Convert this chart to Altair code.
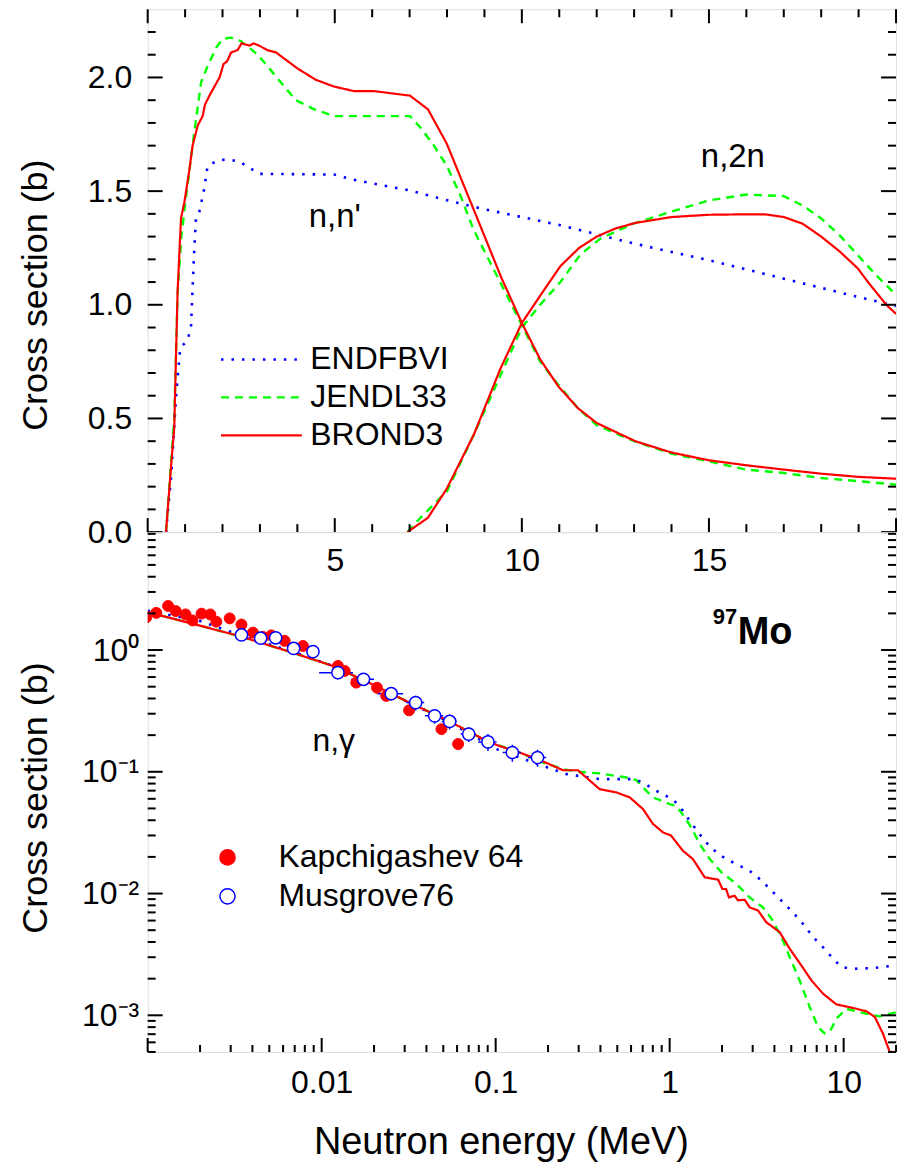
import altair as alt
import pandas as pd

FONT = "Liberation Sans"
W, H_TOP, H_BOT = 750, 524, 521

LIBS = ["ENDFBVI", "JENDL33", "BROND3"]
LIB_COLORS = ["#0000ff", "#00ff00", "#ff0000"]
LIB_DASH = [[2.5, 8], [8, 6], [1, 0]]
LIB_WIDTH = [2.6, 2.2, 2.2]

# ---------------- top panel: n,n' and n,2n (MeV, b) ----------------
endf_nn_E = [0.49, 0.63, 0.76, 0.87, 1.07, 1.16, 1.23, 1.29, 1.38, 1.51, 1.6, 1.87, 2.14, 2.45,
             2.98, 4.98, 5.5, 7.0, 8.0, 9.0, 10.0, 11.03, 12.98, 15.0, 17.0, 18.85, 20.0]
endf_nn_s = [0.0, 0.25, 0.6, 0.81, 0.845, 0.91, 1.19, 1.38, 1.41, 1.51, 1.61, 1.635, 1.64, 1.63,
             1.576, 1.573, 1.55, 1.503, 1.46, 1.42, 1.386, 1.35, 1.27, 1.196, 1.115, 1.04, 0.995]

jendl_nn_E = [0.49, 0.63, 0.71, 0.80, 0.9, 1.03, 1.23, 1.43, 1.6, 1.83, 2.0, 2.23, 2.49, 2.94, 3.2,
              3.65, 3.96, 4.45, 4.98, 7.01, 7.29, 7.65, 8.0, 8.36, 8.71, 9.45, 10.0, 10.49, 10.94,
              11.5, 12.0, 13.0, 14.0, 15.0, 16.0, 17.0, 18.0, 19.0, 20.0]
jendl_nn_s = [0.0, 0.32, 0.5, 1.05, 1.30, 1.48, 1.74, 1.98, 2.05, 2.13, 2.17, 2.175, 2.16, 2.10, 2.05,
              1.96, 1.90, 1.86, 1.83, 1.83, 1.78, 1.70, 1.61, 1.48, 1.33, 1.09, 0.91, 0.75, 0.655,
              0.545, 0.47, 0.40, 0.345, 0.311, 0.275, 0.26, 0.238, 0.224, 0.209]

brond_nn_E = [0.49, 0.63, 0.71, 0.80, 0.89, 0.98, 1.12, 1.2, 1.34, 1.47, 1.53, 1.65, 1.92, 2.03, 2.12,
              2.23, 2.4, 2.51, 2.72, 2.83, 2.98, 3.2, 3.43, 4.0, 4.49, 4.98, 5.51, 6.05, 7.01, 7.49,
              7.99, 8.71, 9.45, 10.0, 10.49, 10.98, 11.5, 12.0, 13.03, 14.0, 15.0, 16.0, 17.0, 18.0,
              19.0, 20.0]
brond_nn_s = [0.0, 0.30, 0.46, 1.06, 1.38, 1.45, 1.60, 1.70, 1.79, 1.83, 1.88, 1.92, 2.00, 2.06, 2.07,
              2.11, 2.12, 2.15, 2.14, 2.15, 2.14, 2.12, 2.11, 2.04, 1.99, 1.96, 1.94, 1.94, 1.92, 1.86,
              1.71, 1.42, 1.12, 0.92, 0.76, 0.64, 0.545, 0.48, 0.40, 0.35, 0.316, 0.294, 0.275, 0.257,
              0.243, 0.235]

jendl_n2n_E = [6.94, 7.29, 8.0, 8.72, 9.43, 10.0, 10.49, 11.03, 11.56, 12.09, 12.98, 14.0, 15.0, 16.0,
               17.0, 17.5, 18.0, 18.49, 18.98, 19.47, 19.9, 20.0]
jendl_n2n_s = [0.0, 0.063, 0.18, 0.43, 0.69, 0.90, 1.0, 1.10, 1.22, 1.29, 1.357, 1.41, 1.459, 1.485,
               1.478, 1.437, 1.38, 1.306, 1.218, 1.13, 1.06, 1.04]

brond_n2n_E = [6.94, 7.49, 7.99, 8.72, 9.43, 10.0, 10.49, 11.03, 11.53, 12.0, 12.49, 13.03, 14.0, 15.0,
               16.0, 16.49, 17.0, 17.5, 18.0, 18.49, 18.98, 19.25, 19.74, 20.0]
brond_n2n_s = [0.0, 0.063, 0.19, 0.43, 0.72, 0.92, 1.04, 1.17, 1.25, 1.30, 1.335, 1.36, 1.386, 1.396,
               1.398, 1.398, 1.386, 1.357, 1.30, 1.235, 1.16, 1.10, 1.0, 0.96]

# ---------------- bottom panel: n,gamma ----------------
endf_ng_E = [0.001, 0.002, 0.00338, 0.00684, 0.0116, 0.0197, 0.0307, 0.0544, 0.0903, 0.105, 0.174,
             0.255, 0.396, 0.615, 0.703, 0.802, 1.05, 1.19, 1.30, 1.46, 1.62, 1.90, 2.21, 2.88, 3.37,
             3.92, 4.48, 5.1, 5.83, 6.67, 7.6, 8.69, 9.7, 11.3, 14.8, 20.0]
endf_ng_s = [2.1, 1.73, 1.33, 0.97, 0.74, 0.52, 0.38, 0.255, 0.168, 0.150, 0.116, 0.0957, 0.0871,
             0.0871, 0.0817, 0.0721, 0.059, 0.048, 0.0398, 0.0318, 0.0263, 0.0211, 0.0186, 0.0154,
             0.0128, 0.0103, 0.0085, 0.00703, 0.00565, 0.00439, 0.00363, 0.00292, 0.00249, 0.00241,
             0.00244, 0.00257]

jendl_ng_E = [0.001, 0.00174, 0.00338, 0.00684, 0.0116, 0.0197, 0.0307, 0.0544, 0.0903, 0.137, 0.179,
              0.244, 0.297, 0.396, 0.564, 0.644, 0.703, 0.802, 1.0, 1.09, 1.22, 1.33, 1.49, 1.70, 1.98,
              2.42, 2.88, 3.44, 3.92, 4.48, 4.9, 5.58, 6.38, 7.13, 7.78, 8.32, 9.08, 10.4, 13.5, 16.1,
              20.0]
jendl_ng_s = [2.05, 1.67, 1.30, 0.95, 0.74, 0.52, 0.38, 0.259, 0.177, 0.144, 0.122, 0.105, 0.100,
              0.097, 0.0898, 0.0855, 0.0744, 0.0616, 0.0543, 0.0526, 0.0423, 0.0349, 0.0255, 0.0192,
              0.0150, 0.0120, 0.0093, 0.0077, 0.0060, 0.0041, 0.0030, 0.00194, 0.00117, 0.0008,
              0.00071, 0.00073, 0.00094, 0.00113, 0.00103, 0.00098, 0.00106]

brond_ng_E = [0.001, 0.00174, 0.00338, 0.00684, 0.0116, 0.0197, 0.0307, 0.0544, 0.0903, 0.105, 0.137,
              0.179, 0.244, 0.297, 0.396, 0.494, 0.589, 0.703, 0.802, 0.916, 1.02, 1.19, 1.36, 1.59,
              1.90, 2.01, 2.11, 2.19, 2.36, 2.47, 2.70, 2.88, 3.22, 3.59, 4.29, 4.9, 5.71, 6.52, 7.6,
              9.08, 11.3, 13.5, 15.1, 16.8, 18.4, 20.0]
brond_ng_s = [2.05, 1.67, 1.30, 0.95, 0.74, 0.52, 0.38, 0.259, 0.177, 0.163, 0.144, 0.125, 0.103,
              0.103, 0.072, 0.0677, 0.0617, 0.0494, 0.0373, 0.0318, 0.0299, 0.0225, 0.0192, 0.0136,
              0.0130, 0.0109, 0.0109, 0.0093, 0.0096, 0.0088, 0.0089, 0.0077, 0.00726, 0.00582,
              0.00482, 0.00352, 0.00257, 0.00194, 0.00151, 0.00123, 0.00115, 0.00108, 0.00097,
              0.00071, 0.0005, 0.0003]

EXPS = ["Kapchigashev 64", "Musgrove76"]
kap_E = [0.00098, 0.00112, 0.00131, 0.00145, 0.00165, 0.00181, 0.00204, 0.00229, 0.00248, 0.00296,
         0.00346, 0.00403, 0.0046, 0.00514, 0.00613, 0.00781, 0.0124, 0.01356, 0.0158, 0.0208,
         0.0235, 0.0318, 0.0488, 0.0608]
kap_s = [1.85, 2.02, 2.30, 2.09, 1.96, 1.75, 1.99, 1.96, 1.71, 1.82, 1.62, 1.39, 1.28, 1.32, 1.19,
         1.08, 0.74, 0.673, 0.54, 0.49, 0.42, 0.32, 0.224, 0.169]

mus_E = [0.00346, 0.00446, 0.00544, 0.0069, 0.00891, 0.0124, 0.0174, 0.0251, 0.0347, 0.0446, 0.0544,
         0.070, 0.0903, 0.1247, 0.174]
mus_s = [1.33, 1.25, 1.26, 1.03, 0.97, 0.652, 0.575, 0.438, 0.37, 0.288, 0.259, 0.204, 0.176, 0.144,
         0.131]
mus_dE = [0.06, 0.06, 0.06, 0.08, 0.08, 0.22, 0.15, 0.17, 0.12, 0.12, 0.10, 0.10, 0.12, 0.12, 0.12]
mus_ds = [0.10, 0.10, 0.10, 0.10, 0.10, 0.12, 0.12, 0.12, 0.14, 0.14, 0.14, 0.14, 0.16, 0.16, 0.16]

# tick positions
top_x_major = [0, 5, 10, 15, 20]
top_x_minor = [v for v in range(1, 20) if v % 5]
top_y_major = [0, 0.5, 1.0, 1.5, 2.0]
top_y_minor = [k / 10 for k in range(1, 23) if k % 5]
bot_x_major = [0.001, 0.01, 0.1, 1, 10]
bot_x_minor = [k * 10.0 ** d for d in range(-3, 2) for k in range(2, 10) if k * 10.0 ** d <= 20.0001]
bot_y_major = [0.001, 0.01, 0.1, 1]
bot_y_minor = [k * 10.0 ** d for d in range(-4, 1) for k in range(2, 10)
               if 5e-4 <= k * 10.0 ** d <= 9.3]

# ---------------- scales and axes (shared by every layer of a panel) ----------------
common_axis = dict(ticks=False, tickSize=0, domain=False, grid=False, labelFont=FONT,
                   labelFontSize=32, labelFlush=False, labelColor="black", labelOverlap=False,
                   titleFont=FONT, titleFontWeight="normal", titleColor="black")
ytitle = dict(title="Cross section (b)", titleX=-93, titleAngle=270, titleBaseline="bottom",
              titleAlign="center", titleFontSize=36)

xs_top = alt.Scale(domain=[0, 20], nice=False, zero=False)
ys_top = alt.Scale(domain=[0, 2.3], nice=False, zero=False)
ax_top_x = alt.Axis(values=[5, 10, 15], format="d", title=None, labelPadding=13, **common_axis)
ax_top_y = alt.Axis(values=top_y_major, format=".1f", titleY=286, labelPadding=16, **ytitle,
                    **common_axis)

xs_bot = alt.Scale(type="log", domain=[0.001, 20], nice=False)
ys_bot = alt.Scale(type="log", domain=[5e-4, 9.3], nice=False)
sup_expr = ("datum.value > 0.5 ? '10\u2070' : datum.value > 0.05 ? '10\u207b\u00b9' : "
            "datum.value > 0.005 ? '10\u207b\u00b2' : '10\u207b\u00b3'")
ax_bot_x = alt.Axis(values=[0.01, 0.1, 1, 10], format="~g", title="Neutron energy (MeV)",
                    titleX=354, titleY=72, titleBaseline="top", titleAlign="center",
                    titleFontSize=38, labelPadding=16, **common_axis)
ax_bot_y = alt.Axis(values=bot_y_major, labelExpr=sup_expr, titleY=266, labelPadding=9, **ytitle,
                    **common_axis)


def X(field, panel):
    return alt.X(field, scale=xs_top if panel == "top" else xs_bot,
                 axis=ax_top_x if panel == "top" else ax_bot_x)


def Y(field, panel):
    return alt.Y(field, scale=ys_top if panel == "top" else ys_bot,
                 axis=ax_top_y if panel == "top" else ax_bot_y)


def lines_df(series):
    rows = []
    for lib, rx, Es, Ss in series:
        for i, (e, s) in enumerate(zip(Es, Ss)):
            rows.append({"lib": lib, "rx": rx, "E": e, "s": s, "i": i})
    return pd.DataFrame(rows)


def edge_ticks(vals, chan, side, length, panel, width, height):
    base = alt.Chart(pd.DataFrame({"v": vals})).mark_rule(color="black", strokeWidth=2)
    if chan == "y":
        x0, x1 = (0, length) if side == "left" else (width, width - length)
        return base.encode(y=Y("v:Q", panel), x=alt.value(x0), x2=alt.value(x1))
    y0, y1 = (height, height - length) if side == "bottom" else (0, length)
    return base.encode(x=X("v:Q", panel), y=alt.value(y0), y2=alt.value(y1))


lib_legend = alt.Legend(orient="none", legendX=72, legendY=335, title=None, symbolType="stroke",
                        symbolSize=6561, symbolStrokeWidth=2.5, labelFont=FONT, labelFontSize=32,
                        labelColor="black", labelOffset=7, rowPadding=6, padding=0, clipHeight=32,
                        labelLimit=400)

# ---------------- top chart ----------------
top_df = lines_df([
    ("JENDL33", "nn", jendl_nn_E, jendl_nn_s), ("JENDL33", "n2n", jendl_n2n_E, jendl_n2n_s),
    ("ENDFBVI", "nn", endf_nn_E, endf_nn_s),
    ("BROND3", "nn", brond_nn_E, brond_nn_s), ("BROND3", "n2n", brond_n2n_E, brond_n2n_s),
])

top_lines = alt.Chart(top_df).mark_line(clip=True).encode(
    x=X("E:Q", "top"), y=Y("s:Q", "top"),
    color=alt.Color("lib:N", scale=alt.Scale(domain=LIBS, range=LIB_COLORS), legend=lib_legend),
    strokeDash=alt.StrokeDash("lib:N", scale=alt.Scale(domain=LIBS, range=LIB_DASH), legend=lib_legend),
    strokeWidth=alt.StrokeWidth("lib:N", scale=alt.Scale(domain=LIBS, range=LIB_WIDTH), legend=None),
    detail="rx:N",
    order="i:Q",
)

top_labels_df = pd.DataFrame({"E": [5.0, 15.64], "s": [1.342, 1.605], "t": ["n,n'", "n,2n"]})
top_text = alt.Chart(top_labels_df).mark_text(font=FONT, fontSize=33, align="center",
                                              baseline="alphabetic", color="black").encode(
    x=X("E:Q", "top"), y=Y("s:Q", "top"), text="t:N")

top_ticks = [
    edge_ticks(top_x_major, "x", "bottom", 14, "top", W, H_TOP),
    edge_ticks(top_x_minor, "x", "bottom", 8, "top", W, H_TOP),
    edge_ticks(top_x_major, "x", "top", 14, "top", W, H_TOP),
    edge_ticks(top_x_minor, "x", "top", 8, "top", W, H_TOP),
    edge_ticks(top_y_major, "y", "left", 15, "top", W, H_TOP),
    edge_ticks(top_y_minor, "y", "left", 8, "top", W, H_TOP),
    edge_ticks(top_y_major, "y", "right", 15, "top", W, H_TOP),
    edge_ticks(top_y_minor, "y", "right", 8, "top", W, H_TOP),
]

top = alt.layer(top_lines, top_text, *top_ticks).properties(width=W, height=H_TOP)

# ---------------- bottom chart ----------------
bot_df = lines_df([
    ("JENDL33", "ng", jendl_ng_E, jendl_ng_s),
    ("ENDFBVI", "ng", endf_ng_E, endf_ng_s),
    ("BROND3", "ng", brond_ng_E, brond_ng_s),
])

bot_lines = alt.Chart(bot_df).mark_line(clip=True).encode(
    x=X("E:Q", "bot"), y=Y("s:Q", "bot"),
    color=alt.Color("lib:N", scale=alt.Scale(domain=LIBS, range=LIB_COLORS), legend=None),
    strokeDash=alt.StrokeDash("lib:N", scale=alt.Scale(domain=LIBS, range=LIB_DASH), legend=None),
    strokeWidth=alt.StrokeWidth("lib:N", scale=alt.Scale(domain=LIBS, range=LIB_WIDTH), legend=None),
    detail="rx:N",
    order="i:Q",
)

mus_df = pd.DataFrame({
    "exp": EXPS[1], "E": mus_E, "s": mus_s,
    "E_lo": [e * (1 - f) for e, f in zip(mus_E, mus_dE)],
    "E_hi": [e * (1 + f) for e, f in zip(mus_E, mus_dE)],
    "s_lo": [s * (1 - f) for s, f in zip(mus_s, mus_ds)],
    "s_hi": [s * (1 + f) for s, f in zip(mus_s, mus_ds)],
})
kap_df = pd.DataFrame({"exp": EXPS[0], "E": kap_E, "s": kap_s})

exp_legend = alt.Legend(orient="none", legendX=64, legendY=H_TOP + 310, title=None,
                        symbolType="circle", symbolSize=230, symbolStrokeWidth=1.5, labelFont=FONT,
                        labelFontSize=32, labelColor="black", labelOffset=35, rowPadding=7,
                        padding=0, clipHeight=32, labelLimit=400)
fill_enc = alt.Fill("exp:N", scale=alt.Scale(domain=EXPS, range=["#ff0000", "#ffffff"]), legend=exp_legend)
stroke_enc = alt.Stroke("exp:N", scale=alt.Scale(domain=EXPS, range=["#ff0000", "#0000ff"]), legend=exp_legend)

err_h = alt.Chart(mus_df).mark_rule(color="#0000ff", strokeWidth=1.5, clip=True).encode(
    x=X("E_lo:Q", "bot"), x2="E_hi:Q", y=Y("s:Q", "bot"))
err_v = alt.Chart(mus_df).mark_rule(color="#0000ff", strokeWidth=1.5, clip=True).encode(
    x=X("E:Q", "bot"), y=Y("s_lo:Q", "bot"), y2="s_hi:Q")

kap_pts = alt.Chart(kap_df).mark_point(shape="circle", size=120, opacity=1, strokeWidth=1,
                                       clip=True).encode(
    x=X("E:Q", "bot"), y=Y("s:Q", "bot"), fill=fill_enc, stroke=stroke_enc)
mus_pts = alt.Chart(mus_df).mark_point(shape="circle", size=150, opacity=1, strokeWidth=1.5,
                                       clip=True).encode(
    x=X("E:Q", "bot"), y=Y("s:Q", "bot"), fill=fill_enc, stroke=stroke_enc)

ng_df = pd.DataFrame({"E": [0.01172], "s": [0.1486], "t": ["n,\u03b3"]})
ng_text = alt.Chart(ng_df).mark_text(font=FONT, fontSize=32, align="center", baseline="alphabetic",
                                     color="black").encode(
    x=X("E:Q", "bot"), y=Y("s:Q", "bot"), text="t:N")

mo_df = pd.DataFrame({"E": [2.46], "s": [1.12], "t": ["Mo"]})
mass_df = pd.DataFrame({"E": [1.77], "s": [1.63], "t": ["97"]})
mo_text = alt.Chart(mo_df).mark_text(font=FONT, fontSize=38, fontWeight="bold", align="left",
                                     baseline="alphabetic", color="black").encode(
    x=X("E:Q", "bot"), y=Y("s:Q", "bot"), text="t:N")
mass_text = alt.Chart(mass_df).mark_text(font=FONT, fontSize=22, fontWeight="bold", align="left",
                                         baseline="alphabetic", color="black").encode(
    x=X("E:Q", "bot"), y=Y("s:Q", "bot"), text="t:N")

bot_ticks = [
    edge_ticks(bot_x_major, "x", "bottom", 14, "bot", W, H_BOT),
    edge_ticks(bot_x_minor, "x", "bottom", 7, "bot", W, H_BOT),
    edge_ticks(bot_y_major, "y", "left", 15, "bot", W, H_BOT),
    edge_ticks(bot_y_minor, "y", "left", 8, "bot", W, H_BOT),
    edge_ticks(bot_y_major, "y", "right", 15, "bot", W, H_BOT),
    edge_ticks(bot_y_minor, "y", "right", 8, "bot", W, H_BOT),
]

bottom = alt.layer(bot_lines, err_h, err_v, kap_pts, mus_pts, ng_text, mo_text, mass_text,
                   *bot_ticks).properties(width=W, height=H_BOT)

chart = alt.vconcat(top, bottom, spacing=0, bounds="flush").resolve_scale(
    color="independent", strokeDash="independent", strokeWidth="independent"
).resolve_legend(
    color="independent", strokeDash="independent", strokeWidth="independent"
).properties(
    autosize=alt.AutoSizeParams(type="pad"),
    padding={"left": 17, "top": 6, "right": 11, "bottom": 0},
    background="white",
).configure_view(stroke="black", strokeWidth=2).configure(font=FONT)

chart.save("out.html", embed_options={"renderer": "svg", "actions": False})
